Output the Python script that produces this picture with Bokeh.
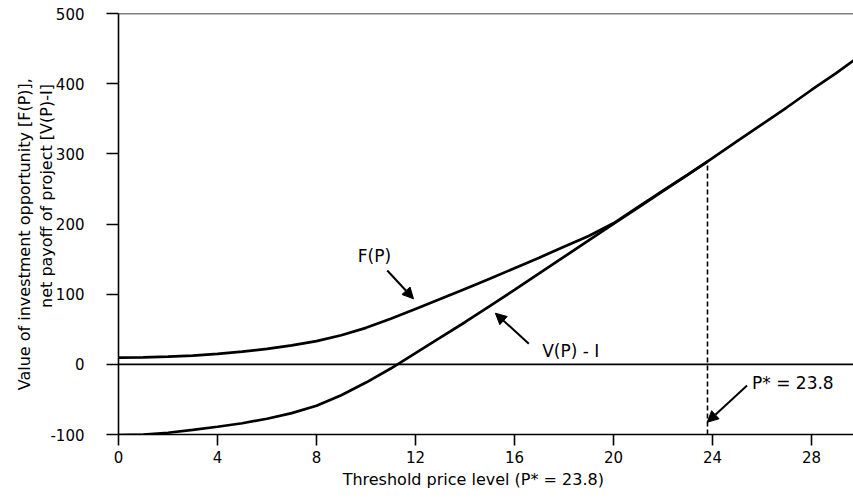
from bokeh.plotting import figure
from bokeh.models import (Range1d, FixedTicker, Span, Arrow, NormalHead, Label,
                          PrintfTickFormatter)
from bokeh.embed import file_html
from bokeh.resources import INLINE

# ---- data ----
price_v = [0, 1, 2, 3, 4, 5, 6, 7, 8, 9, 10, 11, 12, 13, 14, 15, 16, 17, 18, 19,
           20, 21, 22, 23, 24, 25, 26, 27, 28, 29, 29.7]
net_payoff = [-101, -100, -97.5, -93.5, -89, -84, -77.5, -69.5, -59, -44, -26, -6,
              16, 38, 60, 83, 106, 129.5, 153, 176.5, 200, 223.5, 247, 270, 294,
              318, 342, 366, 391, 415, 433]

price_f = [0, 1, 2, 3, 4, 5, 6, 7, 8, 9, 10, 11, 12, 13, 14, 15, 16, 17, 18, 19,
           20, 21, 22, 23, 23.8]
option_value = [9.5, 10, 11, 12.5, 15, 18, 22, 27, 33, 41.5, 52, 65, 79, 93, 107.5,
                122, 137, 152, 167.5, 183, 201, 224.5, 247.5, 270.3, 289]

p_star = 23.8
p_star_value = 289

x_ticks = [0, 4, 8, 12, 16, 20, 24, 28]
y_ticks = [-100, 0, 100, 200, 300, 400, 500]

NB = "\u00a0"
x_title = "Threshold price level (P* = 23.8)" + NB * 5
y_title = ("Value of investment opportunity [F(P)]," + NB * 4 + "\n"
           + NB * 11 + "net payoff of project [V(P)-I]")

FONT = "DejaVu Sans"

p = figure(width=853, height=500, output_backend="svg", toolbar_location=None,
           x_range=Range1d(0, 29.7), y_range=Range1d(-100, 500),
           min_border_left=118, min_border_right=0, min_border_top=13,
           min_border_bottom=66)
p.xgrid.visible = False
p.ygrid.visible = False
p.outline_line_color = None
p.background_fill_color = "white"
p.border_fill_color = "white"

for ax in (p.xaxis[0], p.yaxis[0]):
    ax.axis_line_width = 1.6
    ax.axis_line_color = "black"
    ax.major_tick_line_width = 1.6
    ax.major_tick_line_color = "black"
    ax.minor_tick_line_color = None
    ax.major_tick_in = 0
    ax.major_label_text_font = FONT
    ax.major_label_text_font_size = "15px"
    ax.major_label_text_color = "black"
    ax.formatter = PrintfTickFormatter(format="%d")
    ax.axis_label_text_font = FONT
    ax.axis_label_text_font_size = "16px"
    ax.axis_label_text_font_style = "normal"
    ax.axis_label_text_color = "black"

p.xaxis[0].ticker = FixedTicker(ticks=x_ticks)
p.yaxis[0].ticker = FixedTicker(ticks=y_ticks)
p.xaxis[0].major_tick_out = 11
p.xaxis[0].major_label_standoff = 5
p.yaxis[0].major_tick_out = 12
p.yaxis[0].major_label_standoff = 22

p.xaxis[0].axis_label = x_title
p.xaxis[0].axis_label_standoff = 4
p.yaxis[0].axis_label = y_title
p.yaxis[0].axis_label_standoff = -9

# top border and zero line
p.add_layout(Span(location=500, dimension="width", line_color="black", line_width=1.6))
p.add_layout(Span(location=0, dimension="width", line_color="black", line_width=1.6))

# curves
p.line(price_v, net_payoff, line_color="black", line_width=2.7)
p.line(price_f, option_value, line_color="black", line_width=2.7)

# dashed line at P*
p.segment(x0=[p_star], y0=[-100], x1=[p_star], y1=[p_star_value],
          line_color="black", line_width=1.6, line_dash="5 3")

# arrows
def arrow(x0, y0, x1, y1):
    p.add_layout(Arrow(end=NormalHead(size=11, fill_color="black", line_color="black"),
                       x_start=x0, y_start=y0, x_end=x1, y_end=y1,
                       line_color="black", line_width=2))

arrow(10.86, 133.7, 11.92, 93.4)
arrow(16.58, 29.3, 15.23, 72.9)
arrow(25.40, -30.2, 23.79, -82.5)

def label(x, y, text, size="17px", align="left"):
    p.add_layout(Label(x=x, y=y, text=text, text_font=FONT, text_font_size=size,
                       text_align=align, text_baseline="middle", text_color="black"))

label(10.34, 154.4, "F(P)", align="center")
label(17.12, 19.7, "V(P) - I")
label(25.60, -27.3, "P* = 23.8")

open("out.html", "w").write(file_html(p, INLINE))
